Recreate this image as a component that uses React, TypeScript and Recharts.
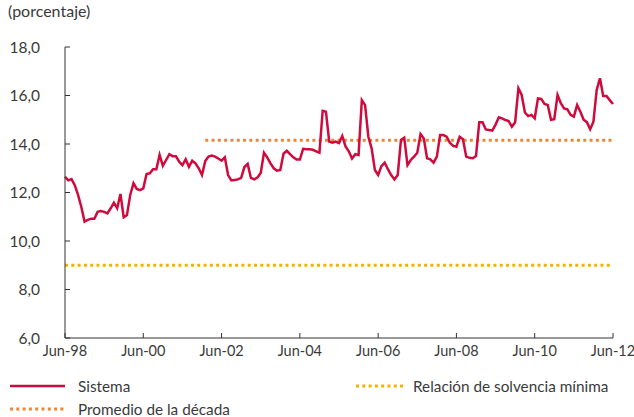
import { LineChart, Line, XAxis, YAxis } from 'recharts'

const MESES = ['Ene', 'Feb', 'Mar', 'Abr', 'May', 'Jun', 'Jul', 'Ago', 'Sep', 'Oct', 'Nov', 'Dic']

// meses desde Jun-98 hasta Jun-12
const categorias = Array.from({ length: 169 }, (_, i) => {
  const m = (5 + i) % 12
  const y = 1998 + Math.floor((5 + i) / 12)
  return `${MESES[m]}-${String(y % 100).padStart(2, '0')}`
})

const sistema = [
  12.65, 12.5, 12.55, 12.3, 11.9, 11.4, 10.8, 10.87, 10.92, 10.92, 11.2, 11.24,
  11.2, 11.14, 11.35, 11.58, 11.35, 11.94, 10.98, 11.07, 11.9, 12.38, 12.15, 12.1,
  12.17, 12.76, 12.79, 12.96, 12.96, 13.55, 13.1, 13.34, 13.58, 13.5, 13.5, 13.27,
  13.13, 13.37, 13.06, 13.31, 13.2, 13.0, 12.72, 13.3, 13.48, 13.52, 13.48, 13.4,
  13.31, 13.45, 12.72, 12.5, 12.52, 12.54, 12.6, 13.05, 13.18, 12.6, 12.54, 12.62,
  12.8, 13.64, 13.45, 13.2, 13.0, 12.9, 12.93, 13.6, 13.72, 13.58, 13.45, 13.36,
  13.36, 13.8, 13.78, 13.78, 13.76, 13.7, 13.64, 15.37, 15.33, 14.1, 14.05, 14.1,
  14.04, 14.33, 13.9, 13.7, 13.4, 13.58, 13.55, 15.81, 15.6, 14.3, 13.82, 12.93,
  12.72, 13.09, 13.23, 12.96, 12.72, 12.54, 12.72, 14.17, 14.26, 13.13, 13.34, 13.48,
  13.64, 14.41, 14.23, 13.41, 13.37, 13.23, 13.48, 14.37, 14.37, 14.3, 14.05, 13.92,
  13.89, 14.3, 14.2, 13.48, 13.43, 13.41, 13.5, 14.9, 14.9, 14.6, 14.58, 14.55,
  14.8, 15.1, 15.06, 14.99, 14.95, 14.71, 14.9, 16.3, 16.02, 15.3, 15.15, 15.2,
  15.06, 15.88, 15.86, 15.65, 15.61, 15.0, 15.02, 16.02, 15.68, 15.47, 15.43, 15.2,
  15.13, 15.61, 15.33, 15.0, 14.9, 14.61, 14.92, 16.23, 16.71, 15.98, 15.98, 15.81,
  15.65,
]

const PROMEDIO = 14.15
const PROMEDIO_DESDE = 'Ene-02'
const SOLVENCIA_MINIMA = 9.0

const xTicks = ['Jun-98', 'Jun-00', 'Jun-02', 'Jun-04', 'Jun-06', 'Jun-08', 'Jun-10', 'Jun-12']
const yTicks = [6, 8, 10, 12, 14, 16, 18]

const desde = categorias.indexOf(PROMEDIO_DESDE)
const data = categorias.map((mes, i) => ({
  mes,
  sistema: sistema[i],
  promedio: i >= desde ? PROMEDIO : null,
  minima: SOLVENCIA_MINIMA,
}))

const FONT = 'Lato, "Open Sans", sans-serif'
const TEXT = '#3a3a3a'
const RED = '#cf0a3c'
const ORANGE = '#ee8636'
const YELLOW = '#f0b400'

const xTick = { fill: TEXT, fontSize: 14.5, fontFamily: FONT }
const yTick = { fill: TEXT, fontSize: 15.5, fontFamily: FONT }

function Muestra({ color, dotted }: { color: string; dotted?: boolean }) {
  return (
    <svg width={56} height={6} style={{ display: 'block' }}>
      <line
        x1={0}
        x2={dotted ? 56 : 55}
        y1={3}
        y2={3}
        stroke={color}
        strokeWidth={dotted ? 3 : 2.5}
        strokeDasharray={dotted ? '3 3.3' : undefined}
      />
    </svg>
  )
}

export default function App() {
  return (
    <div style={{ position: 'absolute', left: 0, top: 0, width: 634, height: 417, fontFamily: FONT, color: TEXT }}>
      <div style={{ position: 'absolute', left: 8, top: 1, fontSize: 16 }}>(porcentaje)</div>

      <LineChart width={634} height={417} data={data} margin={{ top: 47, right: 21, bottom: 49, left: 0 }}>
        <XAxis
          dataKey="mes"
          ticks={xTicks}
          interval={0}
          height={30}
          tick={xTick}
          tickSize={-5}
          tickMargin={13}
          stroke="#333"
          tickLine={{ stroke: '#333' }}
        />
        <YAxis
          domain={[6, 18]}
          ticks={yTicks}
          width={65}
          tick={yTick}
          tickSize={-5}
          tickMargin={30}
          stroke="#333"
          tickLine={{ stroke: '#333' }}
          tickFormatter={(v: number) => v.toFixed(1).replace('.', ',')}
        />
        <Line
          dataKey="minima"
          stroke={YELLOW}
          strokeWidth={3}
          strokeDasharray="3 3.3"
          dot={false}
          isAnimationActive={false}
        />
        <Line
          dataKey="promedio"
          stroke={ORANGE}
          strokeWidth={3}
          strokeDasharray="3 3.3"
          dot={false}
          connectNulls={false}
          isAnimationActive={false}
        />
        <Line
          dataKey="sistema"
          stroke={RED}
          strokeWidth={2.5}
          dot={false}
          isAnimationActive={false}
        />
      </LineChart>

      <div style={{ position: 'absolute', left: 10, top: 377, fontSize: 15.3, lineHeight: '18px' }}>
        <div style={{ display: 'flex', alignItems: 'center', gap: 12 }}>
          <Muestra color={RED} />
          <span>Sistema</span>
        </div>
        <div style={{ display: 'flex', alignItems: 'center', gap: 12, marginTop: 5 }}>
          <Muestra color={ORANGE} dotted />
          <span>Promedio de la década</span>
        </div>
      </div>
      <div style={{ position: 'absolute', left: 356, top: 377, fontSize: 15.3, lineHeight: '18px', display: 'flex', alignItems: 'center', gap: 7 }}>
        <svg width={50} height={6} style={{ display: 'block' }}>
          <line x1={0} x2={50} y1={3} y2={3} stroke={YELLOW} strokeWidth={3} strokeDasharray="3 3.3" />
        </svg>
        <span>Relación de solvencia mínima</span>
      </div>
    </div>
  )
}
